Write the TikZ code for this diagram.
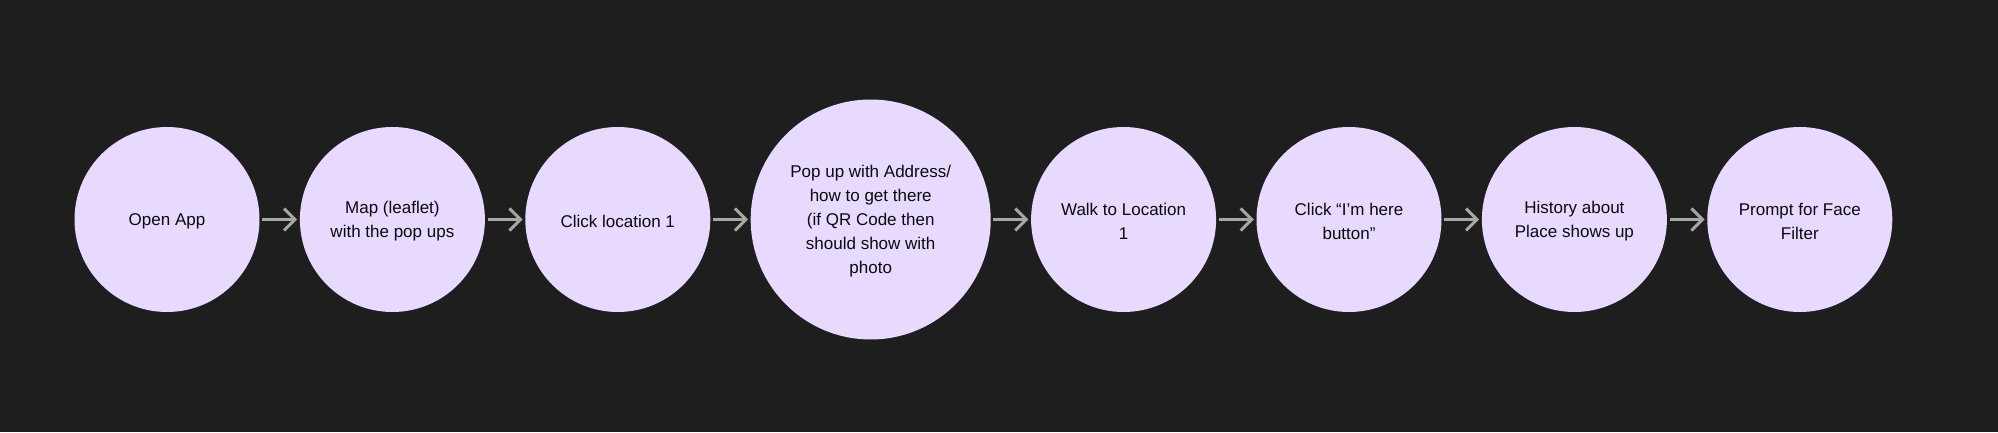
\documentclass[tikz,border=0pt]{standalone}
\usepackage{fontspec}
\setmainfont{Liberation Sans}
\usepackage{tikz}
\usetikzlibrary{positioning, arrows.meta}
\definecolor{bgdark}{HTML}{1E1E1E}
\definecolor{lavender}{HTML}{E8DAFF}
\definecolor{arrowgray}{HTML}{A6A6A2}
\definecolor{textdark}{HTML}{0A0A0A}
\tikzstyle{st}=[%
      circle, draw=none, fill=lavender,
      minimum size=185pt, inner sep=0pt
]
\tikzstyle{bigst}=[st, minimum size=240pt]
\tikzstyle{txt}=[%
      text=textdark, align=center, inner sep=0pt, yshift=-1.5pt,
      font=\fontsize{17}{24}\selectfont
]
\tikzstyle{link}=[%
      draw=arrowgray, line width=3pt, shorten <=2.5pt, shorten >=2.5pt
]

\begin{document}
\begin{tikzpicture}[x=1pt, y=1pt,
    node distance=40pt,
    ->,
    >={Straight Barb[length=11pt, width=22pt]}
  ]
    \fill[bgdark, -] (0,0) rectangle (1998,432);
    \useasboundingbox (0,0) rectangle (1998,432);

    \node[st, label={[txt]center:Open App}] (0) at (167,212.5) {};
    \node[st, label={[txt]center:{Map (leaflet)\\with the pop ups}}] (1) [right = of 0] {};
    \node[st, label={[txt]center:Click location 1}] (2) [right = of 1] {};
    \node[bigst, label={[txt]center:{Pop up with Address/\\how to get there\\(if QR Code then\\should show with\\photo}}] (3) [right = of 2] {};
    \node[st, label={[txt]center:{Walk to Location\\1}}] (4) [right = of 3] {};
    \node[st, label={[txt]center:{Click “I’m here\\button”}}] (5) [right = of 4] {};
    \node[st, label={[txt]center:{History about\\Place shows up}}] (6) [right = of 5] {};
    \node[st, label={[txt]center:{Prompt for Face\\Filter}}] (7) [right = of 6] {};

    \path (0) edge[link] (1)
          (1) edge[link] (2)
          (2) edge[link] (3)
          (3) edge[link] (4)
          (4) edge[link] (5)
          (5) edge[link] (6)
          (6) edge[link] (7)
    ;
  \end{tikzpicture}
\end{document}
